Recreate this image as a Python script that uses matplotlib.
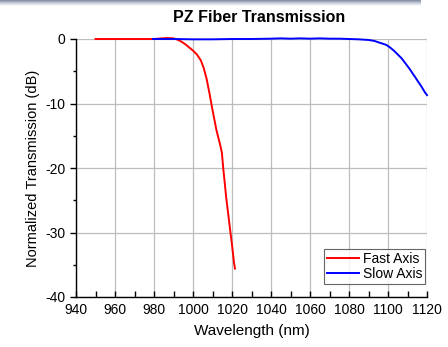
import numpy as np
import matplotlib
matplotlib.use("Agg")
import matplotlib.pyplot as plt
from matplotlib.ticker import MultipleLocator

plt.rcParams['font.family'] = ['Liberation Sans', 'DejaVu Sans']
plt.rcParams['axes.unicode_minus'] = False

# Fast axis transmission
fast_wl = [950, 960, 970, 980, 984, 987, 990, 992, 994, 996, 998, 1000, 1002,
           1004, 1005.5, 1007, 1008.5, 1010, 1012, 1013, 1014, 1014.8, 1015.5,
           1017, 1018, 1019, 1020, 1021, 1021.5]
fast_db = [0, 0, 0, 0, 0.1, 0.15, 0.1, -0.1, -0.4, -0.8, -1.3, -1.8, -2.4,
           -3.3, -4.5, -6.2, -8.5, -11.0, -14.1, -15.3, -16.5, -17.6, -20.0,
           -24.5, -27.0, -29.5, -31.9, -34.6, -35.6]

# Slow axis transmission
slow_wl = [979.5, 990, 1000, 1010, 1020, 1030, 1040, 1045, 1050, 1055, 1060,
           1065, 1070, 1075, 1080, 1085, 1090, 1093, 1096, 1099, 1101, 1103,
           1105, 1107, 1109, 1111, 1113, 1115, 1117, 1119, 1120]
slow_db = [0, 0, -0.05, -0.05, 0, 0, 0.05, 0.1, 0.05, 0.1, 0.05, 0.1, 0.05,
           0.05, 0, -0.05, -0.15, -0.3, -0.6, -0.9, -1.3, -1.8, -2.4, -3.0,
           -3.8, -4.6, -5.5, -6.4, -7.3, -8.3, -8.7]

fig = plt.figure(figsize=(4.48, 3.47), dpi=100)

# slide header band at the very top
band = fig.add_axes([0, 1 - 6 / 347, 420 / 448, 6 / 347])
grad = np.linspace(0, 1, 50).reshape(-1, 1)
band.imshow(grad, aspect='auto', cmap=matplotlib.colors.LinearSegmentedColormap.from_list(
    'hdr', ['#7d889f', '#c9cfda', '#ffffff']))
band.axis('off')

ax = fig.add_axes([76 / 448, 50 / 347, 351 / 448, 258 / 347])

ax.plot(fast_wl, fast_db, color='#ff0000', lw=1.4, label='Fast Axis', clip_on=False, zorder=3)
ax.plot(slow_wl, slow_db, color='#0000ff', lw=1.4, label='Slow Axis', clip_on=False, zorder=4)

ax.set_xlim(940, 1120)
ax.set_ylim(-40, 0)

ax.xaxis.set_major_locator(MultipleLocator(20))
ax.xaxis.set_minor_locator(MultipleLocator(10))
ax.yaxis.set_major_locator(MultipleLocator(10))
ax.yaxis.set_minor_locator(MultipleLocator(5))

ax.tick_params(axis='x', which='both', direction='in', length=4, width=1, labelsize=10, pad=4)
ax.tick_params(axis='y', which='major', direction='out', length=4, width=1, labelsize=10)
ax.tick_params(axis='y', which='minor', direction='out', length=2, width=1)

for s in ['top', 'right']:
    ax.spines[s].set_visible(False)
for s in ['left', 'bottom']:
    ax.spines[s].set_linewidth(1.0)

ax.grid(True, which='major', color='#bdbdbd', lw=0.9)
ax.set_axisbelow(True)

ax.set_xlabel('Wavelength (nm)', fontsize=11, labelpad=5)
ax.set_ylabel('Normalized Transmission (dB)', fontsize=10.5, labelpad=4)

fig.text(259 / 448, 1 - 17 / 347, 'PZ Fiber Transmission', fontsize=11.5,
         fontweight='bold', ha='center', va='center')

leg = ax.legend(loc='lower right', bbox_to_anchor=(0.995, 0.05), fontsize=10,
                frameon=True, fancybox=False, handlelength=2.3, handletextpad=0.3,
                borderpad=0.2, labelspacing=0.1, borderaxespad=0)
leg.get_frame().set_edgecolor('#404040')
leg.get_frame().set_linewidth(0.8)

fig.savefig('out.png', dpi=100)
